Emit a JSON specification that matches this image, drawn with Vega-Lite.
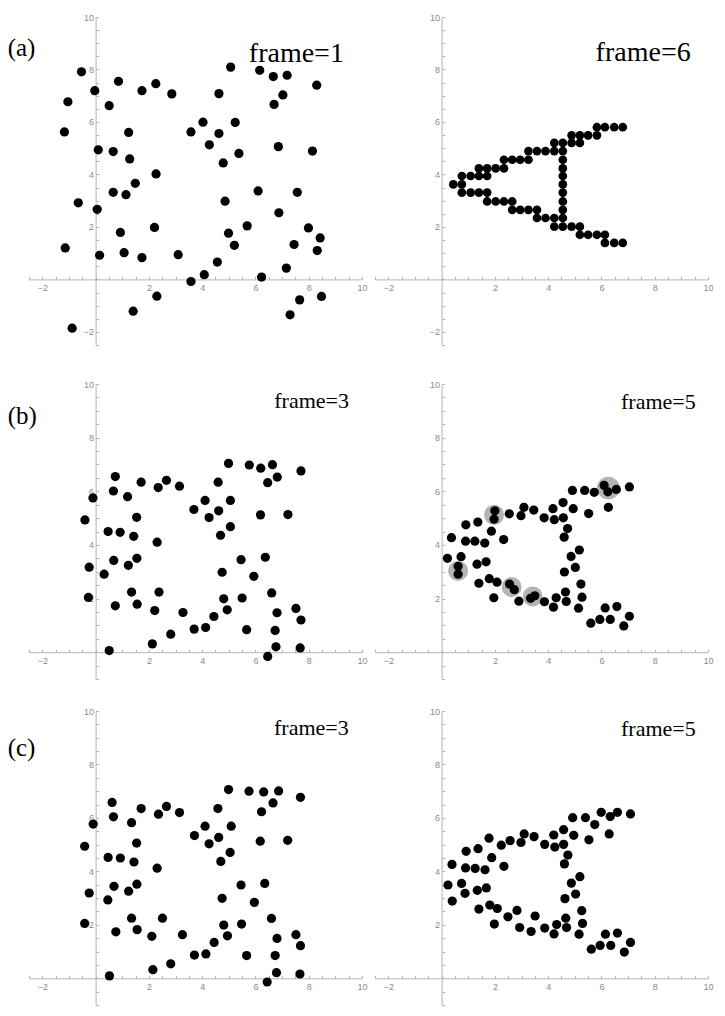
{
  "$schema": "https://vega.github.io/schema/vega-lite/v6.json",
  "padding": {"left": 7, "top": 13, "right": 5, "bottom": 5},
  "background": "white",
  "config": {
    "view": {"stroke": null},
    "axis": {"grid": false, "domainColor": "#b4b4b4", "tickColor": "#b4b4b4", "labelColor": "#8a8a8a", "labelFont": "Liberation Sans", "labelFontSize": 9, "domainWidth": 1, "tickWidth": 1, "tickSize": -3},
    "text": {"font": "Liberation Serif", "color": "#000"}
  },
  "datasets": {
    "a1": [{"x":-0.53,"y":7.91},{"x":-1.04,"y":6.77},{"x":-1.17,"y":5.62},{"x":-0.03,"y":7.19},{"x":0.86,"y":7.55},{"x":0.51,"y":6.62},{"x":1.74,"y":7.19},{"x":2.26,"y":7.46},{"x":2.86,"y":7.07},{"x":0.10,"y":4.94},{"x":0.66,"y":4.87},{"x":1.24,"y":5.60},{"x":1.28,"y":4.59},{"x":2.27,"y":4.02},{"x":1.49,"y":3.66},{"x":0.66,"y":3.32},{"x":1.14,"y":3.23},{"x":-0.65,"y":2.92},{"x":0.06,"y":2.67},{"x":-1.14,"y":1.20},{"x":0.93,"y":1.79},{"x":2.21,"y":1.98},{"x":0.15,"y":0.92},{"x":1.07,"y":1.02},{"x":1.74,"y":0.83},{"x":3.10,"y":0.94},{"x":2.30,"y":-0.64},{"x":1.41,"y":-1.21},{"x":-0.88,"y":-1.86},{"x":3.58,"y":-0.08},{"x":4.08,"y":0.18},{"x":4.57,"y":0.66},{"x":4.99,"y":1.76},{"x":5.21,"y":1.30},{"x":5.69,"y":2.04},{"x":4.86,"y":2.98},{"x":6.10,"y":3.37},{"x":6.88,"y":2.54},{"x":7.57,"y":3.32},{"x":7.99,"y":1.96},{"x":8.43,"y":1.58},{"x":8.32,"y":1.10},{"x":7.45,"y":1.33},{"x":6.23,"y":0.09},{"x":7.16,"y":0.43},{"x":7.66,"y":-0.78},{"x":7.30,"y":-1.35},{"x":8.48,"y":-0.65},{"x":3.58,"y":5.62},{"x":4.03,"y":5.99},{"x":4.27,"y":5.13},{"x":4.63,"y":5.56},{"x":4.79,"y":4.44},{"x":5.38,"y":4.80},{"x":5.24,"y":5.98},{"x":4.63,"y":7.08},{"x":5.07,"y":8.09},{"x":6.16,"y":7.97},{"x":6.67,"y":7.73},{"x":7.19,"y":7.78},{"x":7.03,"y":7.03},{"x":6.70,"y":6.67},{"x":6.86,"y":5.06},{"x":8.14,"y":4.89},{"x":8.30,"y":7.40}],
    "a6": [{"x":5.83,"y":5.80},{"x":6.13,"y":5.80},{"x":6.48,"y":5.80},{"x":6.80,"y":5.80},
           {"x":4.88,"y":5.49},{"x":5.19,"y":5.49},{"x":5.50,"y":5.49},{"x":5.83,"y":5.49},
           {"x":4.23,"y":5.20},{"x":4.55,"y":5.20},{"x":4.88,"y":5.20},{"x":5.19,"y":5.20},
           {"x":3.26,"y":4.89},{"x":3.58,"y":4.89},{"x":3.90,"y":4.89},{"x":4.23,"y":4.89},{"x":4.55,"y":4.89},
           {"x":2.34,"y":4.56},{"x":2.65,"y":4.56},{"x":2.95,"y":4.56},{"x":3.26,"y":4.56},{"x":4.55,"y":4.56},
           {"x":1.40,"y":4.23},{"x":1.71,"y":4.23},{"x":2.03,"y":4.23},{"x":2.34,"y":4.23},{"x":4.55,"y":4.23},
           {"x":0.76,"y":3.94},{"x":1.09,"y":3.94},{"x":1.40,"y":3.94},{"x":1.71,"y":3.94},{"x":4.55,"y":3.94},
           {"x":0.44,"y":3.62},{"x":0.76,"y":3.62},{"x":4.55,"y":3.62},
           {"x":0.76,"y":3.31},{"x":1.09,"y":3.31},{"x":1.40,"y":3.31},{"x":1.71,"y":3.31},{"x":4.55,"y":3.31},
           {"x":1.71,"y":2.97},{"x":2.03,"y":2.97},{"x":2.34,"y":2.97},{"x":2.65,"y":2.97},{"x":4.55,"y":2.97},
           {"x":2.65,"y":2.65},{"x":2.95,"y":2.65},{"x":3.26,"y":2.65},{"x":3.58,"y":2.65},{"x":4.55,"y":2.65},
           {"x":3.58,"y":2.34},{"x":3.90,"y":2.34},{"x":4.23,"y":2.34},{"x":4.55,"y":2.34},
           {"x":4.23,"y":2.01},{"x":4.55,"y":2.01},{"x":4.88,"y":2.01},{"x":5.19,"y":2.01},
           {"x":5.19,"y":1.70},{"x":5.50,"y":1.70},{"x":5.83,"y":1.70},{"x":6.13,"y":1.70},
           {"x":6.13,"y":1.39},{"x":6.48,"y":1.39},{"x":6.80,"y":1.39}],
    "b3": [{"x":-0.40,"y":4.93},{"x":-0.10,"y":5.75},{"x":-0.24,"y":3.17},{"x":-0.27,"y":2.04},{"x":0.32,"y":2.91},{"x":0.51,"y":0.06},{"x":0.74,"y":6.55},{"x":0.67,"y":6.01},{"x":0.47,"y":4.50},{"x":0.92,"y":4.47},{"x":0.68,"y":3.42},{"x":0.74,"y":1.73},{"x":1.20,"y":5.80},{"x":1.54,"y":5.03},{"x":1.43,"y":4.32},{"x":1.55,"y":3.50},{"x":1.23,"y":3.24},{"x":1.35,"y":2.24},{"x":1.56,"y":1.79},{"x":1.71,"y":6.34},{"x":2.35,"y":6.14},{"x":2.66,"y":6.41},{"x":3.15,"y":6.19},{"x":2.31,"y":4.10},{"x":2.38,"y":2.24},{"x":2.22,"y":1.55},{"x":2.13,"y":0.31},{"x":2.82,"y":0.67},{"x":3.28,"y":1.48},{"x":3.70,"y":0.86},{"x":4.13,"y":0.92},{"x":4.44,"y":1.33},{"x":4.94,"y":1.58},{"x":4.81,"y":1.99},{"x":4.75,"y":2.98},{"x":5.50,"y":2.02},{"x":5.67,"y":0.84},{"x":3.69,"y":5.32},{"x":4.11,"y":5.66},{"x":4.26,"y":5.02},{"x":4.60,"y":6.34},{"x":4.62,"y":5.27},{"x":4.69,"y":4.36},{"x":5.06,"y":4.68},{"x":5.06,"y":5.66},{"x":4.99,"y":7.04},{"x":5.77,"y":6.98},{"x":6.20,"y":6.86},{"x":6.64,"y":6.99},{"x":6.82,"y":6.53},{"x":6.46,"y":6.32},{"x":6.19,"y":5.12},{"x":7.22,"y":5.13},{"x":7.71,"y":6.76},{"x":5.46,"y":3.45},{"x":5.94,"y":2.83},{"x":6.37,"y":3.54},{"x":6.61,"y":2.21},{"x":6.81,"y":1.47},{"x":6.74,"y":0.81},{"x":6.77,"y":0.20},{"x":6.46,"y":-0.16},{"x":7.52,"y":1.63},{"x":7.71,"y":1.20},{"x":7.68,"y":0.16}],
    "b5": [{"x":0.22,"y":3.50},{"x":0.37,"y":4.27},{"x":0.62,"y":3.20},{"x":0.62,"y":2.91},{"x":0.73,"y":3.56},{"x":0.91,"y":4.75},{"x":0.90,"y":4.14},{"x":1.25,"y":4.14},{"x":1.36,"y":4.85},{"x":1.33,"y":3.28},{"x":1.40,"y":2.57},{"x":1.62,"y":4.07},{"x":1.67,"y":3.37},{"x":1.79,"y":2.74},{"x":1.87,"y":4.51},{"x":2.00,"y":5.27},{"x":1.97,"y":4.96},{"x":1.96,"y":2.03},{"x":2.08,"y":2.61},{"x":2.33,"y":4.20},{"x":2.54,"y":5.16},{"x":2.55,"y":2.54},{"x":2.73,"y":2.33},{"x":2.90,"y":1.90},{"x":2.98,"y":5.09},{"x":3.09,"y":5.40},{"x":3.34,"y":2.01},{"x":3.50,"y":2.10},{"x":3.46,"y":5.30},{"x":3.85,"y":5.01},{"x":3.86,"y":1.88},{"x":4.18,"y":5.35},{"x":4.23,"y":4.94},{"x":4.30,"y":2.03},{"x":4.20,"y":1.68},{"x":4.56,"y":5.58},{"x":4.57,"y":5.01},{"x":4.73,"y":4.61},{"x":4.60,"y":4.29},{"x":4.91,"y":6.03},{"x":4.94,"y":5.35},{"x":4.86,"y":3.57},{"x":5.17,"y":3.81},{"x":5.02,"y":3.16},{"x":4.61,"y":2.99},{"x":5.23,"y":2.54},{"x":5.27,"y":2.05},{"x":5.14,"y":1.64},{"x":4.65,"y":2.24},{"x":4.68,"y":1.89},{"x":5.37,"y":6.03},{"x":5.73,"y":5.96},{"x":5.52,"y":5.17},{"x":6.10,"y":6.22},{"x":6.24,"y":5.98},{"x":6.56,"y":6.07},{"x":6.26,"y":5.40},{"x":7.05,"y":6.16},{"x":5.60,"y":1.08},{"x":5.94,"y":1.22},{"x":6.14,"y":1.65},{"x":6.33,"y":1.22},{"x":6.58,"y":1.70},{"x":6.84,"y":0.98},{"x":7.05,"y":1.34}],
    "b5h": [{"x":0.62,"y":3.03,"n":2},{"x":1.97,"y":5.12,"n":2},{"x":2.63,"y":2.43,"n":2},{"x":3.42,"y":2.08,"n":2},{"x":6.26,"y":6.12,"n":3}],
    "c3": [{"x":-0.41,"y":4.94},{"x":-0.09,"y":5.77},{"x":-0.24,"y":3.19},{"x":-0.41,"y":2.05},{"x":0.46,"y":2.93},{"x":0.52,"y":0.09},{"x":0.62,"y":6.58},{"x":0.67,"y":6.04},{"x":0.47,"y":4.52},{"x":0.93,"y":4.50},{"x":0.69,"y":3.44},{"x":0.76,"y":1.74},{"x":1.35,"y":5.82},{"x":1.54,"y":5.06},{"x":1.44,"y":4.35},{"x":1.55,"y":3.52},{"x":1.24,"y":3.26},{"x":1.35,"y":2.25},{"x":1.56,"y":1.82},{"x":1.71,"y":6.35},{"x":2.36,"y":6.14},{"x":2.66,"y":6.43},{"x":3.15,"y":6.20},{"x":2.31,"y":4.12},{"x":2.51,"y":2.25},{"x":2.11,"y":1.57},{"x":2.15,"y":0.32},{"x":2.82,"y":0.54},{"x":3.26,"y":1.63},{"x":3.71,"y":0.87},{"x":4.14,"y":0.91},{"x":4.45,"y":1.34},{"x":4.95,"y":1.59},{"x":4.81,"y":1.99},{"x":4.75,"y":2.99},{"x":5.48,"y":2.03},{"x":5.67,"y":0.85},{"x":3.71,"y":5.34},{"x":4.11,"y":5.69},{"x":4.26,"y":5.03},{"x":4.59,"y":6.35},{"x":4.62,"y":5.27},{"x":4.70,"y":4.37},{"x":5.05,"y":4.71},{"x":5.09,"y":5.69},{"x":4.99,"y":7.06},{"x":5.76,"y":7.00},{"x":6.31,"y":6.97},{"x":6.87,"y":7.01},{"x":6.66,"y":6.56},{"x":6.23,"y":6.23},{"x":6.18,"y":5.13},{"x":7.21,"y":5.16},{"x":7.69,"y":6.77},{"x":5.46,"y":3.49},{"x":5.96,"y":2.84},{"x":6.35,"y":3.55},{"x":6.60,"y":2.24},{"x":6.81,"y":1.49},{"x":6.74,"y":0.85},{"x":6.79,"y":0.21},{"x":6.44,"y":-0.14},{"x":7.52,"y":1.63},{"x":7.69,"y":1.22},{"x":7.67,"y":0.16}],
    "c5": [{"x":0.24,"y":3.49},{"x":0.39,"y":4.26},{"x":0.40,"y":2.89},{"x":0.75,"y":3.55},{"x":0.88,"y":3.18},{"x":0.92,"y":4.75},{"x":0.90,"y":4.13},{"x":1.26,"y":4.11},{"x":1.37,"y":4.85},{"x":1.34,"y":3.29},{"x":1.40,"y":2.59},{"x":1.63,"y":4.06},{"x":1.68,"y":3.38},{"x":1.81,"y":2.74},{"x":1.88,"y":4.51},{"x":1.78,"y":5.24},{"x":1.98,"y":2.03},{"x":2.09,"y":2.61},{"x":2.24,"y":4.98},{"x":2.34,"y":4.19},{"x":2.57,"y":5.15},{"x":2.49,"y":2.30},{"x":2.83,"y":2.54},{"x":2.93,"y":1.90},{"x":2.98,"y":5.08},{"x":3.10,"y":5.40},{"x":3.36,"y":1.75},{"x":3.51,"y":2.33},{"x":3.47,"y":5.30},{"x":3.87,"y":5.01},{"x":3.87,"y":1.88},{"x":4.21,"y":5.36},{"x":4.25,"y":4.91},{"x":4.32,"y":2.01},{"x":4.22,"y":1.66},{"x":4.58,"y":5.56},{"x":4.58,"y":5.01},{"x":4.74,"y":4.61},{"x":4.61,"y":4.28},{"x":4.92,"y":6.01},{"x":4.96,"y":5.35},{"x":4.87,"y":3.56},{"x":5.19,"y":3.80},{"x":5.03,"y":3.15},{"x":4.63,"y":2.98},{"x":5.26,"y":2.53},{"x":5.29,"y":2.05},{"x":5.16,"y":1.65},{"x":4.66,"y":2.25},{"x":4.69,"y":1.90},{"x":5.40,"y":6.01},{"x":5.75,"y":5.75},{"x":5.53,"y":5.18},{"x":5.99,"y":6.21},{"x":6.33,"y":6.05},{"x":6.60,"y":6.21},{"x":6.29,"y":5.40},{"x":7.09,"y":6.15},{"x":5.62,"y":1.09},{"x":5.95,"y":1.23},{"x":6.15,"y":1.65},{"x":6.35,"y":1.23},{"x":6.60,"y":1.69},{"x":6.86,"y":0.98},{"x":7.09,"y":1.34}]
  },
  "vconcat": [
    {
      "hconcat": [
        {
          "width": 333, "height": 328,
          "layer": [
            {"data": {"name": "a1"}, "mark": {"type": "circle", "size": 85, "color": "#000", "opacity": 1},
             "encoding": {
               "x": {"field": "x", "type": "quantitative", "title": null, "scale": {"domain": [-2.5, 10], "nice": false, "zero": false},
                     "axis": {"orient": "bottom", "offset": -65.6, "values": [-2.5,-2,-1.5,-1,-0.5,0,0.5,1,1.5,2,2.5,3,3.5,4,4.5,5,5.5,6,6.5,7,7.5,8,8.5,9,9.5,10], "format": ".0f", "labelExpr": "datum.value % 2 == 0 && datum.value != 0 ? datum.label : ''", "labelFlush": false, "labelOverlap": false, "labelBound": false, "labelPadding": 7}},
               "y": {"field": "y", "type": "quantitative", "title": null, "scale": {"domain": [-2.5, 10], "nice": false, "zero": false},
                     "axis": {"orient": "left", "offset": -66.6, "values": [-2.5,-2,-1.5,-1,-0.5,0,0.5,1,1.5,2,2.5,3,3.5,4,4.5,5,5.5,6,6.5,7,7.5,8,8.5,9,9.5,10], "format": ".0f", "labelExpr": "datum.value % 2 == 0 && datum.value != 0 ? datum.label : ''", "labelFlush": false, "labelOverlap": false, "labelBound": false, "labelPadding": 5}}
             }},
            {"data": {"values": [{"t": "frame=1", "x": 9.32, "y": 8.28}]}, "mark": {"type": "text", "fontSize": 28, "align": "right", "baseline": "alphabetic"},
             "encoding": {
               "x": {"field": "x", "type": "quantitative", "title": null, "scale": {"domain": [-2.5, 10], "nice": false, "zero": false},
                     "axis": {"orient": "bottom", "offset": -65.6, "values": [-2.5,-2,-1.5,-1,-0.5,0,0.5,1,1.5,2,2.5,3,3.5,4,4.5,5,5.5,6,6.5,7,7.5,8,8.5,9,9.5,10], "format": ".0f", "labelExpr": "datum.value % 2 == 0 && datum.value != 0 ? datum.label : ''", "labelFlush": false, "labelOverlap": false, "labelBound": false, "labelPadding": 7}},
               "y": {"field": "y", "type": "quantitative", "title": null, "scale": {"domain": [-2.5, 10], "nice": false, "zero": false},
                     "axis": {"orient": "left", "offset": -66.6, "values": [-2.5,-2,-1.5,-1,-0.5,0,0.5,1,1.5,2,2.5,3,3.5,4,4.5,5,5.5,6,6.5,7,7.5,8,8.5,9,9.5,10], "format": ".0f", "labelExpr": "datum.value % 2 == 0 && datum.value != 0 ? datum.label : ''", "labelFlush": false, "labelOverlap": false, "labelBound": false, "labelPadding": 5}},
               "text": {"field": "t"}
             }},
            {"data": {"values": [{"t": "(a)", "x": -3.3, "y": 8.5}]}, "mark": {"type": "text", "fontSize": 25, "align": "left", "baseline": "alphabetic"},
             "encoding": {
               "x": {"field": "x", "type": "quantitative", "title": null, "scale": {"domain": [-2.5, 10], "nice": false, "zero": false},
                     "axis": {"orient": "bottom", "offset": -65.6, "values": [-2.5,-2,-1.5,-1,-0.5,0,0.5,1,1.5,2,2.5,3,3.5,4,4.5,5,5.5,6,6.5,7,7.5,8,8.5,9,9.5,10], "format": ".0f", "labelExpr": "datum.value % 2 == 0 && datum.value != 0 ? datum.label : ''", "labelFlush": false, "labelOverlap": false, "labelBound": false, "labelPadding": 7}},
               "y": {"field": "y", "type": "quantitative", "title": null, "scale": {"domain": [-2.5, 10], "nice": false, "zero": false},
                     "axis": {"orient": "left", "offset": -66.6, "values": [-2.5,-2,-1.5,-1,-0.5,0,0.5,1,1.5,2,2.5,3,3.5,4,4.5,5,5.5,6,6.5,7,7.5,8,8.5,9,9.5,10], "format": ".0f", "labelExpr": "datum.value % 2 == 0 && datum.value != 0 ? datum.label : ''", "labelFlush": false, "labelOverlap": false, "labelBound": false, "labelPadding": 5}},
               "text": {"field": "t"}
             }}
          ]
        },
        {
          "width": 333, "height": 328,
          "layer": [
            {"data": {"name": "a6"}, "mark": {"type": "circle", "size": 76, "color": "#000", "opacity": 1},
             "encoding": {
               "x": {"field": "x", "type": "quantitative", "title": null, "scale": {"domain": [-2.5, 10], "nice": false, "zero": false},
                     "axis": {"orient": "bottom", "offset": -65.6, "values": [-2.5,-2,-1.5,-1,-0.5,0,0.5,1,1.5,2,2.5,3,3.5,4,4.5,5,5.5,6,6.5,7,7.5,8,8.5,9,9.5,10], "format": ".0f", "labelExpr": "datum.value % 2 == 0 && datum.value != 0 ? datum.label : ''", "labelFlush": false, "labelOverlap": false, "labelBound": false, "labelPadding": 7}},
               "y": {"field": "y", "type": "quantitative", "title": null, "scale": {"domain": [-2.5, 10], "nice": false, "zero": false},
                     "axis": {"orient": "left", "offset": -66.6, "values": [-2.5,-2,-1.5,-1,-0.5,0,0.5,1,1.5,2,2.5,3,3.5,4,4.5,5,5.5,6,6.5,7,7.5,8,8.5,9,9.5,10], "format": ".0f", "labelExpr": "datum.value % 2 == 0 && datum.value != 0 ? datum.label : ''", "labelFlush": false, "labelOverlap": false, "labelBound": false, "labelPadding": 5}}
             }},
            {"data": {"values": [{"t": "frame=6", "x": 9.35, "y": 8.32}]}, "mark": {"type": "text", "fontSize": 28, "align": "right", "baseline": "alphabetic"},
             "encoding": {
               "x": {"field": "x", "type": "quantitative", "title": null, "scale": {"domain": [-2.5, 10], "nice": false, "zero": false},
                     "axis": {"orient": "bottom", "offset": -65.6, "values": [-2.5,-2,-1.5,-1,-0.5,0,0.5,1,1.5,2,2.5,3,3.5,4,4.5,5,5.5,6,6.5,7,7.5,8,8.5,9,9.5,10], "format": ".0f", "labelExpr": "datum.value % 2 == 0 && datum.value != 0 ? datum.label : ''", "labelFlush": false, "labelOverlap": false, "labelBound": false, "labelPadding": 7}},
               "y": {"field": "y", "type": "quantitative", "title": null, "scale": {"domain": [-2.5, 10], "nice": false, "zero": false},
                     "axis": {"orient": "left", "offset": -66.6, "values": [-2.5,-2,-1.5,-1,-0.5,0,0.5,1,1.5,2,2.5,3,3.5,4,4.5,5,5.5,6,6.5,7,7.5,8,8.5,9,9.5,10], "format": ".0f", "labelExpr": "datum.value % 2 == 0 && datum.value != 0 ? datum.label : ''", "labelFlush": false, "labelOverlap": false, "labelBound": false, "labelPadding": 5}},
               "text": {"field": "t"}
             }}
          ]
        }
      ],
      "spacing": 13, "bounds": "flush"
    },
    {
      "vconcat": [
        {
          "hconcat": [
            {
              "width": 333, "height": 295,
              "layer": [
                {"data": {"name": "b3"}, "mark": {"type": "circle", "size": 85, "color": "#000", "opacity": 1},
                 "encoding": {
                   "x": {"field": "x", "type": "quantitative", "title": null, "scale": {"domain": [-2.5, 10], "nice": false, "zero": false},
                         "axis": {"orient": "bottom", "offset": -26.8, "values": [-2.5,-2,-1.5,-1,-0.5,0,0.5,1,1.5,2,2.5,3,3.5,4,4.5,5,5.5,6,6.5,7,7.5,8,8.5,9,9.5,10], "format": ".0f", "labelExpr": "datum.value % 2 == 0 && datum.value != 0 ? datum.label : ''", "labelFlush": false, "labelOverlap": false, "labelBound": false, "labelPadding": 7}},
                   "y": {"field": "y", "type": "quantitative", "title": null, "scale": {"domain": [-1, 10], "nice": false, "zero": false},
                         "axis": {"orient": "left", "offset": -66.6, "values": [-1,-0.5,0,0.5,1,1.5,2,2.5,3,3.5,4,4.5,5,5.5,6,6.5,7,7.5,8,8.5,9,9.5,10], "format": ".0f", "labelExpr": "datum.value % 2 == 0 && datum.value != 0 ? datum.label : ''", "labelFlush": false, "labelOverlap": false, "labelBound": false, "labelPadding": 5}}
                 }},
                {"data": {"values": [{"t": "frame=3", "x": 9.51, "y": 9.1}]}, "mark": {"type": "text", "fontSize": 22, "align": "right", "baseline": "alphabetic"},
                 "encoding": {
                   "x": {"field": "x", "type": "quantitative", "title": null, "scale": {"domain": [-2.5, 10], "nice": false, "zero": false},
                         "axis": {"orient": "bottom", "offset": -26.8, "values": [-2.5,-2,-1.5,-1,-0.5,0,0.5,1,1.5,2,2.5,3,3.5,4,4.5,5,5.5,6,6.5,7,7.5,8,8.5,9,9.5,10], "format": ".0f", "labelExpr": "datum.value % 2 == 0 && datum.value != 0 ? datum.label : ''", "labelFlush": false, "labelOverlap": false, "labelBound": false, "labelPadding": 7}},
                   "y": {"field": "y", "type": "quantitative", "title": null, "scale": {"domain": [-1, 10], "nice": false, "zero": false},
                         "axis": {"orient": "left", "offset": -66.6, "values": [-1,-0.5,0,0.5,1,1.5,2,2.5,3,3.5,4,4.5,5,5.5,6,6.5,7,7.5,8,8.5,9,9.5,10], "format": ".0f", "labelExpr": "datum.value % 2 == 0 && datum.value != 0 ? datum.label : ''", "labelFlush": false, "labelOverlap": false, "labelBound": false, "labelPadding": 5}},
                   "text": {"field": "t"}
                 }},
                {"data": {"values": [{"t": "(b)", "x": -3.3, "y": 8.52}]}, "mark": {"type": "text", "fontSize": 25, "align": "left", "baseline": "alphabetic"},
                 "encoding": {
                   "x": {"field": "x", "type": "quantitative", "title": null, "scale": {"domain": [-2.5, 10], "nice": false, "zero": false},
                         "axis": {"orient": "bottom", "offset": -26.8, "values": [-2.5,-2,-1.5,-1,-0.5,0,0.5,1,1.5,2,2.5,3,3.5,4,4.5,5,5.5,6,6.5,7,7.5,8,8.5,9,9.5,10], "format": ".0f", "labelExpr": "datum.value % 2 == 0 && datum.value != 0 ? datum.label : ''", "labelFlush": false, "labelOverlap": false, "labelBound": false, "labelPadding": 7}},
                   "y": {"field": "y", "type": "quantitative", "title": null, "scale": {"domain": [-1, 10], "nice": false, "zero": false},
                         "axis": {"orient": "left", "offset": -66.6, "values": [-1,-0.5,0,0.5,1,1.5,2,2.5,3,3.5,4,4.5,5,5.5,6,6.5,7,7.5,8,8.5,9,9.5,10], "format": ".0f", "labelExpr": "datum.value % 2 == 0 && datum.value != 0 ? datum.label : ''", "labelFlush": false, "labelOverlap": false, "labelBound": false, "labelPadding": 5}},
                   "text": {"field": "t"}
                 }}
              ]
            },
            {
              "width": 333, "height": 295,
              "layer": [
                {"data": {"name": "b5h"}, "mark": {"type": "circle", "color": "#b3b3b3", "opacity": 1},
                 "encoding": {
                   "x": {"field": "x", "type": "quantitative", "title": null, "scale": {"domain": [-2.5, 10], "nice": false, "zero": false},
                         "axis": {"orient": "bottom", "offset": -26.8, "values": [-2.5,-2,-1.5,-1,-0.5,0,0.5,1,1.5,2,2.5,3,3.5,4,4.5,5,5.5,6,6.5,7,7.5,8,8.5,9,9.5,10], "format": ".0f", "labelExpr": "datum.value % 2 == 0 && datum.value != 0 ? datum.label : ''", "labelFlush": false, "labelOverlap": false, "labelBound": false, "labelPadding": 7}},
                   "y": {"field": "y", "type": "quantitative", "title": null, "scale": {"domain": [-1, 10], "nice": false, "zero": false},
                         "axis": {"orient": "left", "offset": -66.6, "values": [-1,-0.5,0,0.5,1,1.5,2,2.5,3,3.5,4,4.5,5,5.5,6,6.5,7,7.5,8,8.5,9,9.5,10], "format": ".0f", "labelExpr": "datum.value % 2 == 0 && datum.value != 0 ? datum.label : ''", "labelFlush": false, "labelOverlap": false, "labelBound": false, "labelPadding": 5}},
                   "size": {"field": "n", "type": "quantitative", "scale": {"domain": [2, 3], "range": [400, 520]}, "legend": null}
                 }},
                {"data": {"name": "b5"}, "mark": {"type": "circle", "size": 85, "color": "#000", "opacity": 1},
                 "encoding": {
                   "x": {"field": "x", "type": "quantitative", "title": null, "scale": {"domain": [-2.5, 10], "nice": false, "zero": false},
                         "axis": {"orient": "bottom", "offset": -26.8, "values": [-2.5,-2,-1.5,-1,-0.5,0,0.5,1,1.5,2,2.5,3,3.5,4,4.5,5,5.5,6,6.5,7,7.5,8,8.5,9,9.5,10], "format": ".0f", "labelExpr": "datum.value % 2 == 0 && datum.value != 0 ? datum.label : ''", "labelFlush": false, "labelOverlap": false, "labelBound": false, "labelPadding": 7}},
                   "y": {"field": "y", "type": "quantitative", "title": null, "scale": {"domain": [-1, 10], "nice": false, "zero": false},
                         "axis": {"orient": "left", "offset": -66.6, "values": [-1,-0.5,0,0.5,1,1.5,2,2.5,3,3.5,4,4.5,5,5.5,6,6.5,7,7.5,8,8.5,9,9.5,10], "format": ".0f", "labelExpr": "datum.value % 2 == 0 && datum.value != 0 ? datum.label : ''", "labelFlush": false, "labelOverlap": false, "labelBound": false, "labelPadding": 5}}
                 }},
                {"data": {"values": [{"t": "frame=5", "x": 9.54, "y": 9.07}]}, "mark": {"type": "text", "fontSize": 22, "align": "right", "baseline": "alphabetic"},
                 "encoding": {
                   "x": {"field": "x", "type": "quantitative", "title": null, "scale": {"domain": [-2.5, 10], "nice": false, "zero": false},
                         "axis": {"orient": "bottom", "offset": -26.8, "values": [-2.5,-2,-1.5,-1,-0.5,0,0.5,1,1.5,2,2.5,3,3.5,4,4.5,5,5.5,6,6.5,7,7.5,8,8.5,9,9.5,10], "format": ".0f", "labelExpr": "datum.value % 2 == 0 && datum.value != 0 ? datum.label : ''", "labelFlush": false, "labelOverlap": false, "labelBound": false, "labelPadding": 7}},
                   "y": {"field": "y", "type": "quantitative", "title": null, "scale": {"domain": [-1, 10], "nice": false, "zero": false},
                         "axis": {"orient": "left", "offset": -66.6, "values": [-1,-0.5,0,0.5,1,1.5,2,2.5,3,3.5,4,4.5,5,5.5,6,6.5,7,7.5,8,8.5,9,9.5,10], "format": ".0f", "labelExpr": "datum.value % 2 == 0 && datum.value != 0 ? datum.label : ''", "labelFlush": false, "labelOverlap": false, "labelBound": false, "labelPadding": 5}},
                   "text": {"field": "t"}
                 }}
              ]
            }
          ],
          "spacing": 13, "bounds": "flush"
        },
        {
          "hconcat": [
            {
              "width": 333, "height": 294,
              "layer": [
                {"data": {"name": "c3"}, "mark": {"type": "circle", "size": 85, "color": "#000", "opacity": 1},
                 "encoding": {
                   "x": {"field": "x", "type": "quantitative", "title": null, "scale": {"domain": [-2.5, 10], "nice": false, "zero": false},
                         "axis": {"orient": "bottom", "offset": -26.7, "values": [-2.5,-2,-1.5,-1,-0.5,0,0.5,1,1.5,2,2.5,3,3.5,4,4.5,5,5.5,6,6.5,7,7.5,8,8.5,9,9.5,10], "format": ".0f", "labelExpr": "datum.value % 2 == 0 && datum.value != 0 ? datum.label : ''", "labelFlush": false, "labelOverlap": false, "labelBound": false, "labelPadding": 7}},
                   "y": {"field": "y", "type": "quantitative", "title": null, "scale": {"domain": [-1, 10], "nice": false, "zero": false},
                         "axis": {"orient": "left", "offset": -66.6, "values": [-1,-0.5,0,0.5,1,1.5,2,2.5,3,3.5,4,4.5,5,5.5,6,6.5,7,7.5,8,8.5,9,9.5,10], "format": ".0f", "labelExpr": "datum.value % 2 == 0 && datum.value != 0 ? datum.label : ''", "labelFlush": false, "labelOverlap": false, "labelBound": false, "labelPadding": 5}}
                 }},
                {"data": {"values": [{"t": "frame=3", "x": 9.5, "y": 9.09}]}, "mark": {"type": "text", "fontSize": 22, "align": "right", "baseline": "alphabetic"},
                 "encoding": {
                   "x": {"field": "x", "type": "quantitative", "title": null, "scale": {"domain": [-2.5, 10], "nice": false, "zero": false},
                         "axis": {"orient": "bottom", "offset": -26.7, "values": [-2.5,-2,-1.5,-1,-0.5,0,0.5,1,1.5,2,2.5,3,3.5,4,4.5,5,5.5,6,6.5,7,7.5,8,8.5,9,9.5,10], "format": ".0f", "labelExpr": "datum.value % 2 == 0 && datum.value != 0 ? datum.label : ''", "labelFlush": false, "labelOverlap": false, "labelBound": false, "labelPadding": 7}},
                   "y": {"field": "y", "type": "quantitative", "title": null, "scale": {"domain": [-1, 10], "nice": false, "zero": false},
                         "axis": {"orient": "left", "offset": -66.6, "values": [-1,-0.5,0,0.5,1,1.5,2,2.5,3,3.5,4,4.5,5,5.5,6,6.5,7,7.5,8,8.5,9,9.5,10], "format": ".0f", "labelExpr": "datum.value % 2 == 0 && datum.value != 0 ? datum.label : ''", "labelFlush": false, "labelOverlap": false, "labelBound": false, "labelPadding": 5}},
                   "text": {"field": "t"}
                 }},
                {"data": {"values": [{"t": "(c)", "x": -3.3, "y": 8.33}]}, "mark": {"type": "text", "fontSize": 25, "align": "left", "baseline": "alphabetic"},
                 "encoding": {
                   "x": {"field": "x", "type": "quantitative", "title": null, "scale": {"domain": [-2.5, 10], "nice": false, "zero": false},
                         "axis": {"orient": "bottom", "offset": -26.7, "values": [-2.5,-2,-1.5,-1,-0.5,0,0.5,1,1.5,2,2.5,3,3.5,4,4.5,5,5.5,6,6.5,7,7.5,8,8.5,9,9.5,10], "format": ".0f", "labelExpr": "datum.value % 2 == 0 && datum.value != 0 ? datum.label : ''", "labelFlush": false, "labelOverlap": false, "labelBound": false, "labelPadding": 7}},
                   "y": {"field": "y", "type": "quantitative", "title": null, "scale": {"domain": [-1, 10], "nice": false, "zero": false},
                         "axis": {"orient": "left", "offset": -66.6, "values": [-1,-0.5,0,0.5,1,1.5,2,2.5,3,3.5,4,4.5,5,5.5,6,6.5,7,7.5,8,8.5,9,9.5,10], "format": ".0f", "labelExpr": "datum.value % 2 == 0 && datum.value != 0 ? datum.label : ''", "labelFlush": false, "labelOverlap": false, "labelBound": false, "labelPadding": 5}},
                   "text": {"field": "t"}
                 }}
              ]
            },
            {
              "width": 333, "height": 294,
              "layer": [
                {"data": {"name": "c5"}, "mark": {"type": "circle", "size": 85, "color": "#000", "opacity": 1},
                 "encoding": {
                   "x": {"field": "x", "type": "quantitative", "title": null, "scale": {"domain": [-2.5, 10], "nice": false, "zero": false},
                         "axis": {"orient": "bottom", "offset": -26.7, "values": [-2.5,-2,-1.5,-1,-0.5,0,0.5,1,1.5,2,2.5,3,3.5,4,4.5,5,5.5,6,6.5,7,7.5,8,8.5,9,9.5,10], "format": ".0f", "labelExpr": "datum.value % 2 == 0 && datum.value != 0 ? datum.label : ''", "labelFlush": false, "labelOverlap": false, "labelBound": false, "labelPadding": 7}},
                   "y": {"field": "y", "type": "quantitative", "title": null, "scale": {"domain": [-1, 10], "nice": false, "zero": false},
                         "axis": {"orient": "left", "offset": -66.6, "values": [-1,-0.5,0,0.5,1,1.5,2,2.5,3,3.5,4,4.5,5,5.5,6,6.5,7,7.5,8,8.5,9,9.5,10], "format": ".0f", "labelExpr": "datum.value % 2 == 0 && datum.value != 0 ? datum.label : ''", "labelFlush": false, "labelOverlap": false, "labelBound": false, "labelPadding": 5}}
                 }},
                {"data": {"values": [{"t": "frame=5", "x": 9.54, "y": 9.06}]}, "mark": {"type": "text", "fontSize": 22, "align": "right", "baseline": "alphabetic"},
                 "encoding": {
                   "x": {"field": "x", "type": "quantitative", "title": null, "scale": {"domain": [-2.5, 10], "nice": false, "zero": false},
                         "axis": {"orient": "bottom", "offset": -26.7, "values": [-2.5,-2,-1.5,-1,-0.5,0,0.5,1,1.5,2,2.5,3,3.5,4,4.5,5,5.5,6,6.5,7,7.5,8,8.5,9,9.5,10], "format": ".0f", "labelExpr": "datum.value % 2 == 0 && datum.value != 0 ? datum.label : ''", "labelFlush": false, "labelOverlap": false, "labelBound": false, "labelPadding": 7}},
                   "y": {"field": "y", "type": "quantitative", "title": null, "scale": {"domain": [-1, 10], "nice": false, "zero": false},
                         "axis": {"orient": "left", "offset": -66.6, "values": [-1,-0.5,0,0.5,1,1.5,2,2.5,3,3.5,4,4.5,5,5.5,6,6.5,7,7.5,8,8.5,9,9.5,10], "format": ".0f", "labelExpr": "datum.value % 2 == 0 && datum.value != 0 ? datum.label : ''", "labelFlush": false, "labelOverlap": false, "labelBound": false, "labelPadding": 5}},
                   "text": {"field": "t"}
                 }}
              ]
            }
          ],
          "spacing": 13, "bounds": "flush"
        }
      ],
      "spacing": 23
    }
  ],
  "spacing": 30
}
